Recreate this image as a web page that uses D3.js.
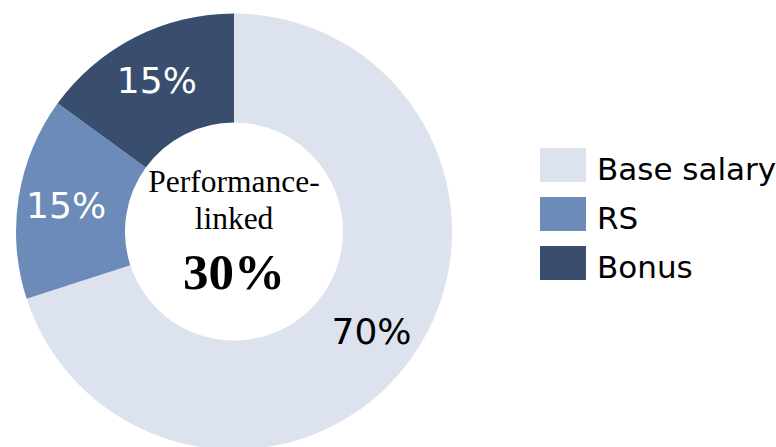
<!DOCTYPE html>
<html>
<head>
<meta charset="utf-8">
<script src="https://cdn.jsdelivr.net/npm/d3@7"></script>
<style>
  html, body { margin: 0; padding: 0; background: #ffffff; }
  svg { display: block; }
</style>
</head>
<body>
<svg id="chart" width="776" height="447"></svg>
<script>
// Pay-mix components and their shares (%)
const categories = ["Base salary", "RS", "Bonus"];
const shares = [70, 15, 15];
const colors = ["#dde3ee", "#6c8bb8", "#394e6e"];
const labelColors = ["#000000", "#ffffff", "#ffffff"];
const centerTitle = ["Performance-", "linked"];
const centerValue = shares[1] + shares[2];

const svg = d3.select("#chart");
const cx = 234, cy = 231.5;
const outerR = 218, innerR = 109, labelR = 170;

const data = categories.map((c, i) => ({ name: c, value: shares[i], color: colors[i], text: labelColors[i] }));

const pie = d3.pie().value(d => d.value).sort(null);
const arc = d3.arc().innerRadius(innerR).outerRadius(outerR);
const labelArc = d3.arc().innerRadius(labelR).outerRadius(labelR);
const arcs = pie(data);

const g = svg.append("g").attr("transform", `translate(${cx},${cy})`);

g.selectAll("path.slice")
  .data(arcs)
  .join("path")
  .attr("class", "slice")
  .attr("d", arc)
  .attr("fill", d => d.data.color);

g.selectAll("text.pct")
  .data(arcs)
  .join("text")
  .attr("class", "pct")
  .attr("transform", d => `translate(${labelArc.centroid(d)})`)
  .attr("text-anchor", "middle")
  .attr("dy", "0.36em")
  .attr("font-family", "'DejaVu Sans', Verdana, sans-serif")
  .attr("font-size", 36)
  .attr("fill", d => d.data.text)
  .text(d => d.data.value + "%");

// Centre caption
const center = g.append("g").attr("font-family", "'Liberation Serif', 'Times New Roman', serif").attr("text-anchor", "middle");
center.append("text").attr("x", 0).attr("y", -40).attr("font-size", 31.5).text(centerTitle[0]);
center.append("text").attr("x", 0).attr("y", -3).attr("font-size", 31.5).text(centerTitle[1]);
center.append("text").attr("x", 0).attr("y", 57).attr("font-size", 51).attr("font-weight", "bold").text(centerValue + "%");

// Legend
const legend = svg.append("g").attr("transform", "translate(540,148)");
const item = legend.selectAll("g.item")
  .data(data)
  .join("g")
  .attr("class", "item")
  .attr("transform", (d, i) => `translate(0,${i * 49})`);
item.append("rect").attr("width", 46).attr("height", 34).attr("fill", d => d.color);
item.append("text")
  .attr("x", 57)
  .attr("y", 32)
  .attr("font-family", "'DejaVu Sans', Verdana, sans-serif")
  .attr("font-size", 31)
  .attr("fill", "#000")
  .text(d => d.name);
</script>
</body>
</html>
